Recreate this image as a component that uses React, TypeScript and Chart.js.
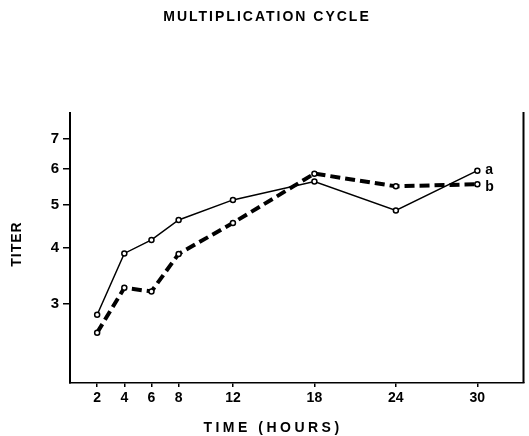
import React, { useEffect, useRef } from "react";
import { Chart, registerables } from "chart.js";

Chart.register(...registerables);

const hours = [2, 4, 6, 8, 12, 18, 24, 30];
const seriesA = [2.84, 3.89, 4.17, 4.62, 5.12, 5.63, 4.85, 5.95];
const seriesB = [2.59, 3.26, 3.2, 3.88, 4.55, 5.86, 5.49, 5.55];
const xTickValues = [2, 4, 6, 8, 12, 18, 24, 30];
const yTickValues = [3, 4, 5, 6, 7];
const seriesLabels = ["a", "b"];
const titleText = "MULTIPLICATION CYCLE";
const xTitle = "TIME (HOURS)";
const yTitle = "TITER";

const FONT = "'Liberation Sans', Arial, sans-serif";

const textPlugin = {
  id: "textPlugin",
  afterDraw(chart: any) {
    const ctx = chart.ctx as CanvasRenderingContext2D;
    const area = chart.chartArea;
    ctx.save();
    ctx.fillStyle = "#000";
    ctx.strokeStyle = "#000";
    // right frame line
    ctx.lineWidth = 2;
    ctx.beginPath();
    ctx.moveTo(area.right, area.top - 1);
    ctx.lineTo(area.right, area.bottom);
    ctx.stroke();

    (ctx as any).letterSpacing = "2px";
    ctx.font = `bold 14px ${FONT}`;
    ctx.textAlign = "center";
    ctx.textBaseline = "middle";
    ctx.fillText(titleText, 267, 17);

    (ctx as any).letterSpacing = "3.5px";
    ctx.font = `bold 14px ${FONT}`;
    ctx.fillText(xTitle, 273, 428);

    ctx.save();
    ctx.translate(17, 244);
    ctx.rotate(-Math.PI / 2);
    (ctx as any).letterSpacing = "1px";
    ctx.font = `bold 14px ${FONT}`;
    ctx.fillText(yTitle, 0, 0);
    ctx.restore();

    // series end labels
    (ctx as any).letterSpacing = "0px";
    ctx.font = `bold 14px ${FONT}`;
    ctx.textAlign = "left";
    const xs = chart.scales.x;
    const ys = chart.scales.y;
    const n = hours.length - 1;
    ctx.fillText(seriesLabels[0], xs.getPixelForValue(hours[n]) + 8, ys.getPixelForValue(seriesA[n]) - 1);
    ctx.fillText(seriesLabels[1], xs.getPixelForValue(hours[n]) + 8, ys.getPixelForValue(seriesB[n]) + 3);
    ctx.restore();
  },
};

export default function App() {
  const ref = useRef<HTMLCanvasElement>(null);
  useEffect(() => {
    if (!ref.current) return;
    const chart = new Chart(ref.current, {
      type: "line",
      data: {
        datasets: [
          {
            label: seriesLabels[0],
            data: hours.map((h, i) => ({ x: h, y: seriesA[i] })),
            borderColor: "#000",
            borderWidth: 1.5,
            pointRadius: 2.5,
            pointBorderWidth: 1.5,
            pointBackgroundColor: "#fff",
            pointBorderColor: "#000",
            tension: 0,
            order: 2,
          },
          {
            label: seriesLabels[1],
            data: hours.map((h, i) => ({ x: h, y: seriesB[i] })),
            borderColor: "#000",
            borderWidth: 4,
            borderDash: [10, 5],
            pointRadius: 2.5,
            pointBorderWidth: 1.5,
            pointBackgroundColor: "#fff",
            pointBorderColor: "#000",
            tension: 0,
            order: 1,
          },
        ],
      },
      options: {
        animation: false,
        responsive: false,
        devicePixelRatio: 1,
        layout: { padding: { top: 113, right: 4, left: 0, bottom: 0 } },
        plugins: {
          legend: { display: false },
          title: { display: false },
          tooltip: { enabled: false },
        },
        scales: {
          x: {
            type: "linear",
            min: 0,
            max: 33.4,
            afterBuildTicks: (s: any) => {
              s.ticks = xTickValues.map((v) => ({ value: v }));
            },
            afterFit: (s: any) => {
              s.height = 53;
            },
            grid: {
              display: true,
              drawOnChartArea: false,
              drawTicks: true,
              tickLength: 4,
              color: "#000",
              lineWidth: 1.5,
            },
            border: { display: true, color: "#000", width: 1.5 },
            ticks: {
              color: "#000",
              font: { family: FONT, size: 14, weight: "bold" },
              padding: 3,
              autoSkip: false,
              maxRotation: 0,
              callback: (v: any) => String(v),
            },
          },
          y: {
            type: "logarithmic",
            min: 2,
            max: 8,
            afterBuildTicks: (s: any) => {
              s.ticks = yTickValues.map((v) => ({ value: v }));
            },
            afterFit: (s: any) => {
              s.width = 70;
            },
            grid: {
              display: true,
              drawOnChartArea: false,
              drawTicks: true,
              tickLength: 7,
              color: "#000",
              lineWidth: 1.5,
            },
            border: { display: true, color: "#000", width: 2 },
            ticks: {
              color: "#000",
              font: { family: FONT, size: 15, weight: "bold" },
              padding: 4,
              autoSkip: false,
              callback: (v: any) => String(v),
            },
          },
        },
      } as any,
      plugins: [textPlugin],
    });
    return () => chart.destroy();
  }, []);
  return (
    <div style={{ position: "fixed", left: 0, top: 0, width: 529, height: 436, background: "#fff" }}>
      <canvas ref={ref} width={529} height={436} style={{ display: "block" }} />
    </div>
  );
}
